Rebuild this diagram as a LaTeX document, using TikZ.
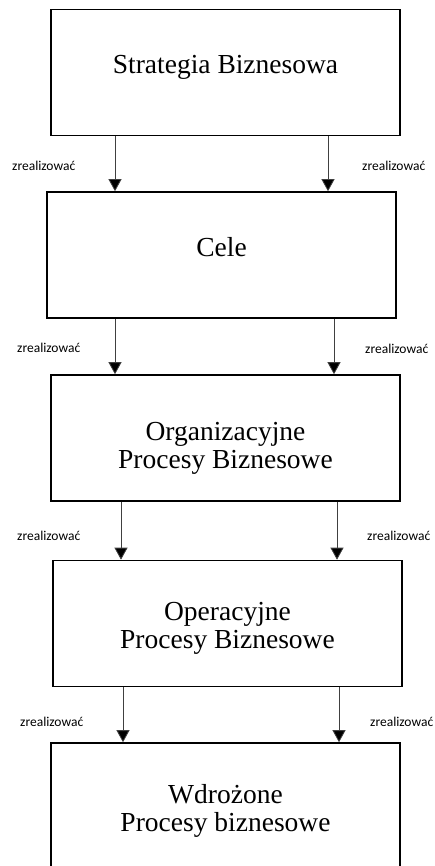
\documentclass[tikz,border=0pt]{standalone}
\usepackage{fontspec}
\setmainfont{Liberation Serif}
\newfontfamily\labelfont{Carlito}
\usetikzlibrary{arrows.meta}
\begin{document}
\begin{tikzpicture}[x=1pt,y=-1pt,
  stage/.style={draw=black, line width=1.6pt, minimum width=349pt, minimum height=126pt,
    inner sep=0pt},
  caption/.style={align=center, inner sep=0pt, font=\fontsize{27.5}{28}\selectfont},
  flow/.style={draw=black!75, line width=0.8pt,
    -{Triangle[width=13pt,length=12pt,fill=black]}},
  tag/.style={font=\labelfont\fontsize{13.5}{15}\selectfont, inner sep=0pt, anchor=west}]
  \useasboundingbox (0,0) rectangle (434,866);
  \begin{scope}
    \clip (0,0) rectangle (434,866);

    % process stages, top to bottom
    \node[stage] (b1) at (225.5,72.5) {};
    \node[stage] (b2) at (221.5,255) {};
    \node[stage] (b3) at (225.5,438) {};
    \node[stage] (b4) at (227.5,623.5) {};
    \node[stage] (b5) at (225.5,806) {};

    % stage titles
    \node[caption] (s1) at ([yshift=5pt]b1.center) {Strategia Biznesowa};
    \node[caption] (s2) at ([yshift=8pt]b2.center) {Cele};
    \node[caption] (s3) at ([yshift=-10pt]b3.center) {Organizacyjne\\Procesy Biznesowe};
    \node[caption] (s4) at ([yshift=-5pt]b4.center) {Operacyjne\\Procesy Biznesowe};
    \node[caption] (s5) at ([yshift=-5pt]b5.center) {Wdrożone\\Procesy biznesowe};

    % columns of the connectors
    \coordinate (c1l) at (115,0); \coordinate (c1r) at (328,0);
    \coordinate (c2l) at (115,0); \coordinate (c2r) at (334,0);
    \coordinate (c3l) at (121,0); \coordinate (c3r) at (337,0);
    \coordinate (c4l) at (123,0); \coordinate (c4r) at (339,0);

    \draw[flow] (c1l |- b1.south) -- (c1l |- b2.north);
    \draw[flow] (c1r |- b1.south) -- (c1r |- b2.north);
    \draw[flow] (c2l |- b2.south) -- (c2l |- b3.north);
    \draw[flow] (c2r |- b2.south) -- (c2r |- b3.north);
    \draw[flow] (c3l |- b3.south) -- (c3l |- b4.north);
    \draw[flow] (c3r |- b3.south) -- (c3r |- b4.north);
    \draw[flow] (c4l |- b4.south) -- (c4l |- b5.north);
    \draw[flow] (c4r |- b4.south) -- (c4r |- b5.north);

    % connector labels
    \node[tag] (t1l) at (12,166) {zrealizować};
    \node[tag] (t1r) at (362,166) {zrealizować};
    \node[tag] (t2l) at (17,348) {zrealizować};
    \node[tag] (t2r) at (365,349) {zrealizować};
    \node[tag] (t3l) at (17,536) {zrealizować};
    \node[tag] (t3r) at (367,536) {zrealizować};
    \node[tag] (t4l) at (20,722) {zrealizować};
    \node[tag] (t4r) at (370,722) {zrealizować};
  \end{scope}
\end{tikzpicture}
\end{document}
